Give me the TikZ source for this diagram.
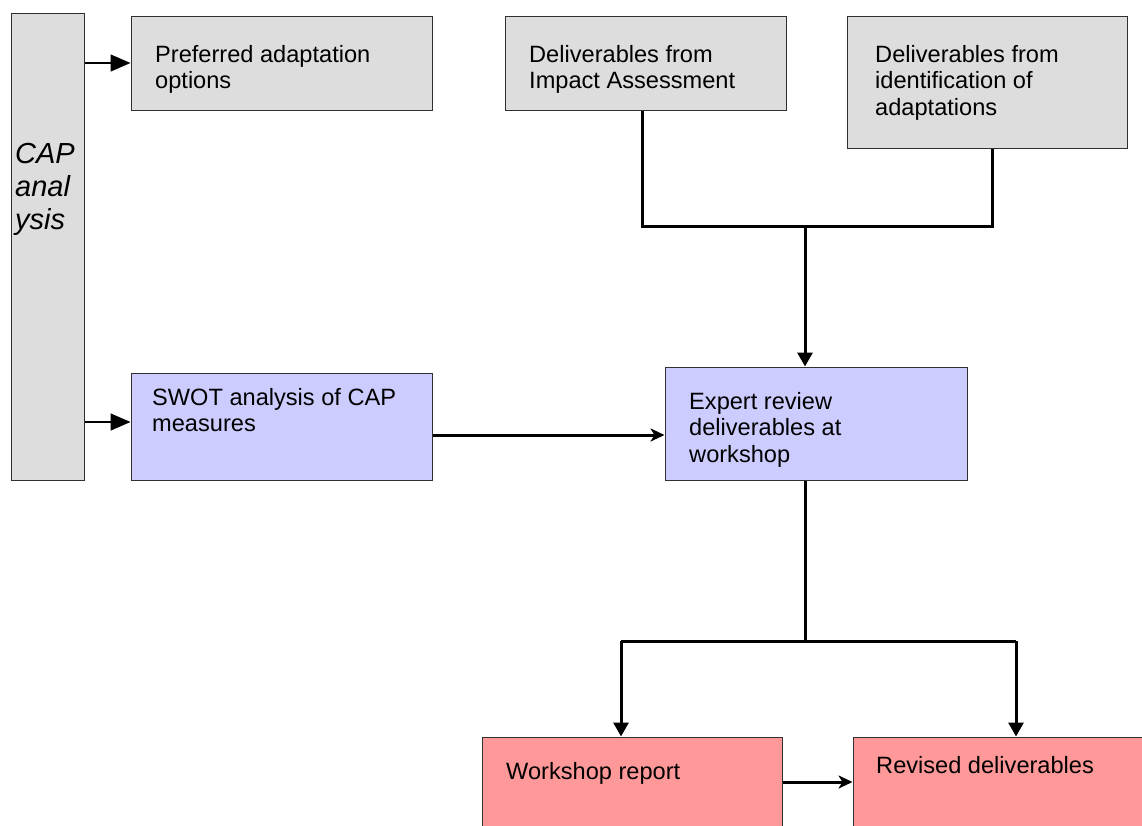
\documentclass[tikz,border=0pt]{standalone}
\usepackage{fontspec}
\setmainfont{Liberation Sans}
\usetikzlibrary{arrows.meta,calc}
\definecolor{boxgrey}{HTML}{DDDDDD}
\definecolor{boxblue}{HTML}{CCCCFF}
\definecolor{boxpink}{HTML}{FF9999}
\definecolor{edgecol}{HTML}{303030}
\begin{document}
\begin{tikzpicture}[x=1pt,y=-1pt,
  box/.style={draw=edgecol, line width=1pt, inner sep=0pt},
  greybox/.style={box, fill=boxgrey},
  bluebox/.style={box, fill=boxblue},
  pinkbox/.style={box, fill=boxpink},
  txt/.style={anchor=north west, inner sep=0pt, align=left, font=\fontsize{23.6}{26.5}\selectfont},
  captxt/.style={anchor=north west, inner sep=0pt, align=left, font=\fontsize{29}{33}\selectfont\itshape},
  thinarrow/.style={line width=1.5pt, -{Triangle[length=20pt,width=17pt]}},
  thickline/.style={line width=3pt},
  thickarrow/.style={line width=3pt, -{Triangle[length=14pt,width=15pt]}},
  sidearrow/.style={line width=3pt, -{Stealth[length=14pt,width=13pt,inset=4pt]}}
]
\useasboundingbox (0,0) rectangle (1142,825);
\fill[white] (0,0) rectangle (1142,825);

% boxes
\node[greybox, minimum width=73pt, minimum height=467pt] (cap) at (47.5,246.5) {};
\node[greybox, minimum width=301pt, minimum height=94pt] (pref) at (281.5,63) {};
\node[greybox, minimum width=281pt, minimum height=94pt] (impact) at (645.5,63) {};
\node[greybox, minimum width=280pt, minimum height=132pt] (ident) at (987,82) {};
\node[bluebox, minimum width=301pt, minimum height=107pt] (swot) at (281.5,426.5) {};
\node[bluebox, minimum width=302pt, minimum height=113pt] (expert) at (816,423.5) {};
\node[pinkbox, minimum width=300pt, minimum height=100pt] (workshop) at (632,787) {};
\node[pinkbox, minimum width=300pt, minimum height=100pt] (revised) at (1003,787) {};

% texts
\node[captxt] (tcap) at (15,139.9) {\strut CAP\\anal\\ysis};
\node[txt] (tpref) at (155,43.5) {\strut Preferred adaptation\\options};
\node[txt] (timpact) at (529,43.5) {\strut Deliverables from\\Impact Assessment};
\node[txt] (tident) at (875,43.5) {\strut Deliverables from\\identification of\\adaptations};
\node[txt] (tswot) at (152,386.5) {\strut SWOT analysis of CAP\\measures};
\node[txt] (texpert) at (689,390.5) {\strut Expert review\\deliverables at\\workshop};
\node[txt] (tworkshop) at (506,760.5) {\strut Workshop report};
\node[txt] (trevised) at (876,754.5) {\strut Revised deliverables};

% junction points
\coordinate (ja) at (642,226);
\coordinate (jb) at (992,226);
\coordinate (jc) at (805,226);
\coordinate (jd) at (805,641);
\coordinate (je) at (621,641);
\coordinate (jf) at (1016,641);

% CAP arrows
\draw[thinarrow] (cap.east |- pref.west) -- (pref.west);
\draw[thinarrow] ($(cap.east |- swot.west)+(0,-4.5)$) -- ($(swot.west)+(0,-4.5)$);

% merge from top deliverables
\draw[thickline] (impact.south -| ja) -- (ja) -- (jb) -- (ident.south -| jb);
\draw[thickarrow] (jc) -- (expert.north -| jc);

% SWOT to expert
\draw[sidearrow] ($(swot.east)+(0,8.5)$) -- ($(expert.west |- swot.east)+(0,8.5)$);

% split to outputs
\draw[thickline] (expert.south -| jd) -- (jd);
\draw[thickline] (je) -- (jf);
\draw[thickarrow] (je) -- (workshop.north -| je);
\draw[thickarrow] (jf) -- (revised.north -| jf);

% workshop to revised
\draw[sidearrow] ($(workshop.east)+(0,-5)$) -- ($(revised.west)+(0,-5)$);
\end{tikzpicture}
\end{document}
